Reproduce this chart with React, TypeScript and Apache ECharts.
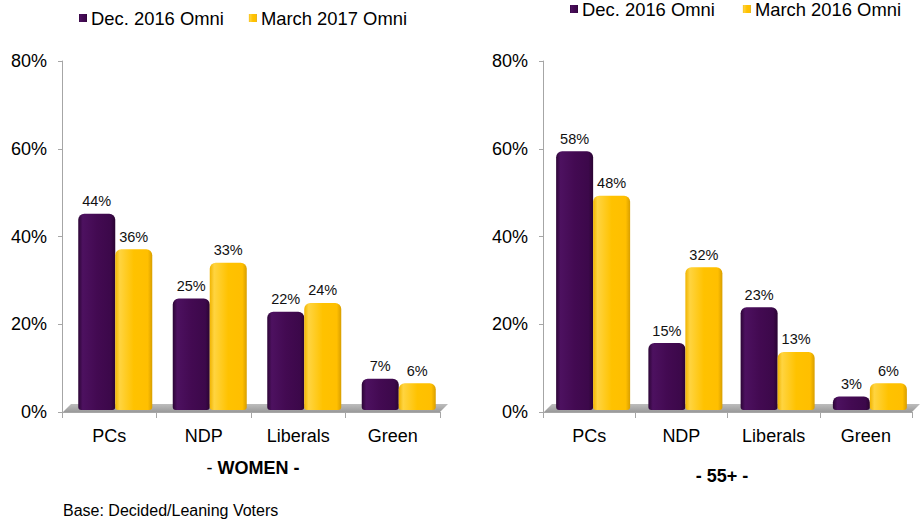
import React, { useEffect, useRef } from "react";
import * as echarts from "echarts";

const categories = ["PCs", "NDP", "Liberals", "Green"];
const womenDec2016 = [44, 25, 22, 7];
const womenMar2017 = [36, 33, 24, 6];
const age55Dec2016 = [58, 15, 23, 3];
const age55Mar2016 = [48, 32, 13, 6];
const yTicks = { min: 0, max: 80, interval: 20 };
const leftLegend = ["Dec. 2016 Omni", "March 2017 Omni"];
const rightLegend = ["Dec. 2016 Omni", "March 2016 Omni"];

const FONT = "'Liberation Sans', Arial, sans-serif";

const purple = new echarts.graphic.LinearGradient(0, 0, 1, 0, [
  { offset: 0, color: "#2c0536" },
  { offset: 0.12, color: "#4d1160" },
  { offset: 0.5, color: "#430a52" },
  { offset: 0.88, color: "#3c084a" },
  { offset: 1, color: "#2a0432" },
]);
const yellow = new echarts.graphic.LinearGradient(0, 0, 1, 0, [
  { offset: 0, color: "#f0b400" },
  { offset: 0.12, color: "#ffd440" },
  { offset: 0.5, color: "#ffc200" },
  { offset: 0.88, color: "#ffbf00" },
  { offset: 1, color: "#d89e00" },
]);

export default function App() {
  const ref = useRef<HTMLDivElement>(null);
  useEffect(() => {
    const chart = echarts.init(ref.current!, null, { renderer: "svg" });

    const gridsA = [
      { left: 62, top: 61, width: 378, height: 351 },
      { left: 543, top: 61, width: 369, height: 351 },
    ];
    const gridsB = [
      { left: 68, top: 53, width: 378, height: 357 },
      { left: 547, top: 53, width: 369, height: 357 },
    ];

    const visX = (gi: number) => ({
      type: "category",
      gridIndex: gi,
      data: categories,
      axisLine: { lineStyle: { color: "#a6a6a6", width: 1 } },
      axisTick: { show: true, length: 6, lineStyle: { color: "#a6a6a6" } },
      axisLabel: { color: "#000", fontSize: 18, fontFamily: FONT, margin: 15 },
    });
    const hidX = (gi: number) => ({
      type: "category",
      gridIndex: gi,
      data: categories,
      show: false,
    });
    const visY = (gi: number) => ({
      type: "value",
      gridIndex: gi,
      ...yTicks,
      splitLine: { show: false },
      axisLine: { show: true, lineStyle: { color: "#a6a6a6" } },
      axisTick: { show: true, length: 4, lineStyle: { color: "#a6a6a6" } },
      axisLabel: {
        formatter: "{value}%",
        color: "#000",
        fontSize: 18,
        fontFamily: FONT,
        margin: 15,
      },
    });
    const hidY = (gi: number) => ({
      type: "value",
      gridIndex: gi,
      ...yTicks,
      show: false,
      splitLine: { show: false },
    });

    const bar = (name: string, data: number[], axis: number, color: any) => ({
      name,
      type: "bar",
      xAxisIndex: axis,
      yAxisIndex: axis,
      data,
      barWidth: 37,
      barGap: "0%",
      z: 3,
      itemStyle: { color, borderRadius: [6, 6, 3, 3] },
      label: {
        show: true,
        position: "top",
        distance: 5,
        formatter: "{c}%",
        color: "#111",
        fontSize: 14.5,
        fontFamily: FONT,
      },
    });

    const floor = (g: { left: number; top: number; width: number; height: number }) => {
      const y0 = g.top + g.height;
      const x0 = g.left;
      const x1 = g.left + g.width;
      return {
        type: "polygon",
        z: 1,
        shape: {
          points: [
            [x0 + 1, y0],
            [x1, y0],
            [x1 + 8, y0 - 8],
            [x0 + 9, y0 - 8],
          ],
        },
        style: {
          fill: new echarts.graphic.LinearGradient(0, 0, 0, 1, [
            { offset: 0, color: "#bdbdbd" },
            { offset: 1, color: "#9a9a9a" },
          ]),
        },
      };
    };

    const legendText = { fontSize: 18.4, color: "#000", fontFamily: FONT };

    chart.setOption({
      animation: false,
      textStyle: { fontFamily: FONT },
      grid: [gridsA[0], gridsB[0], gridsA[1], gridsB[1]],
      xAxis: [visX(0), hidX(1), visX(2), hidX(3)],
      yAxis: [visY(0), hidY(1), visY(2), hidY(3)],
      legend: [
        {
          left: 79,
          top: 9,
          padding: 0,
          itemWidth: 8,
          itemHeight: 8,
          itemGap: 25,
          icon: "rect",
          data: leftLegend,
          textStyle: { ...legendText, padding: [0, 0, 0, -1] },
        },
        {
          left: 570,
          top: 0,
          padding: 0,
          itemWidth: 8,
          itemHeight: 8,
          itemGap: 28,
          icon: "rect",
          data: rightLegend,
          textStyle: { ...legendText, padding: [0, 0, 0, -1] },
        },
      ],
      series: [
        bar(leftLegend[0], womenDec2016, 1, purple),
        bar(leftLegend[1], womenMar2017, 1, yellow),
        bar(rightLegend[0], age55Dec2016, 3, purple),
        bar(rightLegend[1], age55Mar2016, 3, yellow),
      ],
      graphic: [
        floor(gridsA[0]),
        floor(gridsA[1]),
        {
          type: "text",
          x: 253,
          y: 468,
          style: {
            text: "{n|- }{b|WOMEN -}",
            align: "center",
            verticalAlign: "middle",
            rich: {
              n: { fontSize: 18, fontFamily: FONT, fill: "#000" },
              b: { fontSize: 18, fontFamily: FONT, fontWeight: "bold", fill: "#000" },
            },
          },
        },
        {
          type: "text",
          x: 722,
          y: 476,
          style: {
            text: "- 55+ -",
            align: "center",
            verticalAlign: "middle",
            fontSize: 18,
            fontWeight: "bold",
            fontFamily: FONT,
            fill: "#000",
          },
        },
        {
          type: "text",
          x: 63,
          y: 510,
          style: {
            text: "Base: Decided/Leaning Voters",
            align: "left",
            verticalAlign: "middle",
            fontSize: 16,
            fontFamily: FONT,
            fill: "#000",
          },
        },
      ],
    });
    return () => chart.dispose();
  }, []);
  return (
    <div
      ref={ref}
      style={{ position: "fixed", left: 0, top: 0, width: 921, height: 523, background: "#fff" }}
    />
  );
}
